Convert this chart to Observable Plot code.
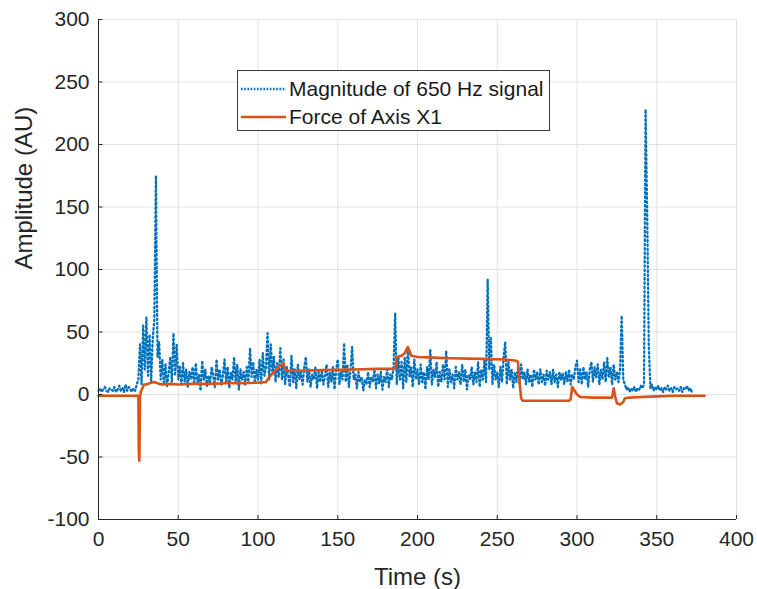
<!DOCTYPE html>
<html>
<head>
<meta charset="utf-8">
<script src="https://cdn.jsdelivr.net/npm/d3@7"></script>
<script src="https://cdn.jsdelivr.net/npm/@observablehq/plot@0.6"></script>
<style>
  html, body { margin: 0; padding: 0; background: #fff; }
  #wrap { position: relative; width: 757px; height: 589px; font-family: "Liberation Sans", Arial, sans-serif; }
  #legend { position: absolute; left: 237px; top: 70px; width: 311px; height: 59px; border: 1px solid #3a3a3a; background: #fff; box-sizing: content-box; }
  .item { position: absolute; left: 2px; height: 28px; display: flex; align-items: center; font-size: 21px; color: #1a1a1a; white-space: nowrap; }
  .item svg { margin-right: 2px; }
</style>
</head>
<body>
<div id="wrap"></div>
<script>
// ---- data ----
const sampleStep = 1; // seconds between magnitude samples
const magnitude = [
  3,5,2,4,6,3,2,5,4,3,
  6,2,4,7,3,5,2,8,3,6,
  4,2,5,3,8,12,40,8,55,20,
  62,15,48,10,45,60,175,30,42,12,
  28,8,24,6,18,30,10,49,15,40,
  12,22,8,25,10,20,6,18,12,22,
  8,25,10,16,3,27,12,20,7,15,
  10,22,14,6,28,12,20,8,15,28,
  10,22,5,18,12,30,10,24,4,20,
  12,18,8,22,10,37,14,26,9,20,
  12,28,8,33,15,22,49,12,40,18,
  30,10,25,14,37,12,28,8,22,14,
  6,31,10,20,5,24,12,18,8,22,
  30,10,20,6,16,12,22,5,18,10,
  20,8,15,24,6,18,10,22,4,20,
  28,8,18,12,41,10,24,6,20,38,
  12,16,5,18,10,14,3,12,8,18,
  6,14,10,20,5,16,9,18,4,14,
  10,20,6,16,12,22,65,8,30,12,
  26,5,30,10,38,14,22,6,28,12,
  20,8,24,10,18,4,22,12,36,8,
  20,14,26,6,18,10,24,12,35,6,
  20,10,16,5,22,12,18,8,24,10,
  20,4,16,12,22,8,18,10,26,6,
  20,12,28,10,92,20,45,8,24,12,
  18,6,22,10,30,42,8,26,12,20,
  5,18,10,22,8,24,12,18,8,20,
  10,16,6,20,12,18,8,20,10,16,
  7,19,12,18,8,20,10,16,6,18,
  12,17,8,18,10,20,8,16,12,22,
  27,10,20,8,22,12,18,6,20,26,
  10,22,14,24,8,20,12,26,10,29,
  14,22,8,24,12,18,10,20,63,12,
  8,4,6,2,5,3,6,2,5,4,
  7,5,8,228,145,40,5,8,3,6,
  4,7,3,5,2,6,4,7,3,5,
  2,6,4,5,3,6,2,5,4,7,
  3,5,2
];
const forceTime = [0,10,20,25,25.3,25.6,26,26.5,27.5,28.5,30,32,35,38,40,45,50,60,70,80,90,100,105,107,110,113,115,116,117,119,125,140,160,175,185,186,187,190,192,193,194,195,196,200,210,220,240,255,262,263,264,265,266,280,295,296,297,298,300,302,310,322,323,324,325,327,329,330,333,340,350,360,370,380];
const forceValue = [-1,-1,-1,-1,-45,-53,-2,2,5,8,8,9,10,8.5,8,8.5,8,8.5,8.5,9,9,9.5,10,14,18,22,24,25,20,19,19,19.5,20,20.5,20.5,21,30,31,33,36,38,35,31,30,29.5,29,28.5,28,27,26,10,-3,-5,-5,-5,-4,6,4,0,-2,-2.5,-2.5,5,-2,-7,-8,-6,-3,-2.5,-2,-1.5,-1,-1,-1];
const xTicks = [0,50,100,150,200,250,300,350,400];
const yTicks = [-100,-50,0,50,100,150,200,250,300];
const seriesNames = ["Magnitude of 650 Hz signal", "Force of Axis X1"];
const xLabel = "Time (s)";
const yLabel = "Amplitude (AU)";

// ---- tables ----
const magRows = magnitude.map((v, i) => ({t: i * sampleStep, v}));
const forceRows = forceTime.map((t, i) => ({t, v: forceValue[i]}));

const blue = "#0072BD", orange = "#D95319", ink = "#262626", grid = "#e2e2e2";
const dots = "1.5,2.8";

const chart = Plot.plot({
  width: 757, height: 589,
  marginLeft: 98, marginRight: 21, marginTop: 19, marginBottom: 70,
  x: {domain: [0, 400]},
  y: {domain: [-100, 300]},
  style: {fontFamily: "'Liberation Sans', Arial, sans-serif", fontSize: "21px", color: ink, background: "#fff", overflow: "visible"},
  marks: [
    Plot.ruleX(xTicks, {stroke: grid, strokeWidth: 1}),
    Plot.ruleY(yTicks, {stroke: grid, strokeWidth: 1}),
    Plot.axisX({ticks: xTicks, tickSize: 0, tickPadding: 12, label: null, fontSize: 21, tickFormat: d => String(d)}),
    Plot.axisY({ticks: yTicks, tickSize: 0, tickPadding: 9, label: null, fontSize: 21, tickFormat: d => String(d)}),
    Plot.line(magRows, {x: "t", y: "v", stroke: blue, strokeWidth: 2.3, strokeDasharray: dots}),
    Plot.line(forceRows, {x: "t", y: "v", stroke: orange, strokeWidth: 2.6}),
    Plot.ruleX([0], {stroke: ink, strokeWidth: 1}),
    Plot.ruleY([-100], {stroke: ink, strokeWidth: 1}),
    Plot.ruleX(xTicks, {y1: -100, y2: -96.8, stroke: ink, strokeWidth: 1}),
    Plot.ruleY(yTicks, {x1: 0, x2: 2.8, stroke: ink, strokeWidth: 1}),
    Plot.text([xLabel], {frameAnchor: "bottom", dy: 58, lineAnchor: "middle", fontSize: 24, fill: ink}),
    Plot.text([yLabel], {frameAnchor: "left", rotate: -90, dx: -74, fontSize: 24, fill: ink})
  ]
});

const wrap = document.getElementById("wrap");
wrap.appendChild(chart);

// legend
const legend = document.createElement("div");
legend.id = "legend";
const styles = [{stroke: blue, dash: "1.6,1.6", w: 2.3}, {stroke: orange, dash: null, w: 2.6}];
seriesNames.forEach((name, i) => {
  const item = document.createElement("div");
  item.className = "item";
  item.style.top = (4 + i * 28) + "px";
  const s = styles[i];
  item.innerHTML = `<svg width="47" height="10"><line x1="1" x2="46" y1="5" y2="5" stroke="${s.stroke}" stroke-width="${s.w}" ${s.dash ? `stroke-dasharray="${s.dash}"` : ""}/></svg><span>${name}</span>`;
  legend.appendChild(item);
});
wrap.appendChild(legend);
</script>
</body>
</html>
